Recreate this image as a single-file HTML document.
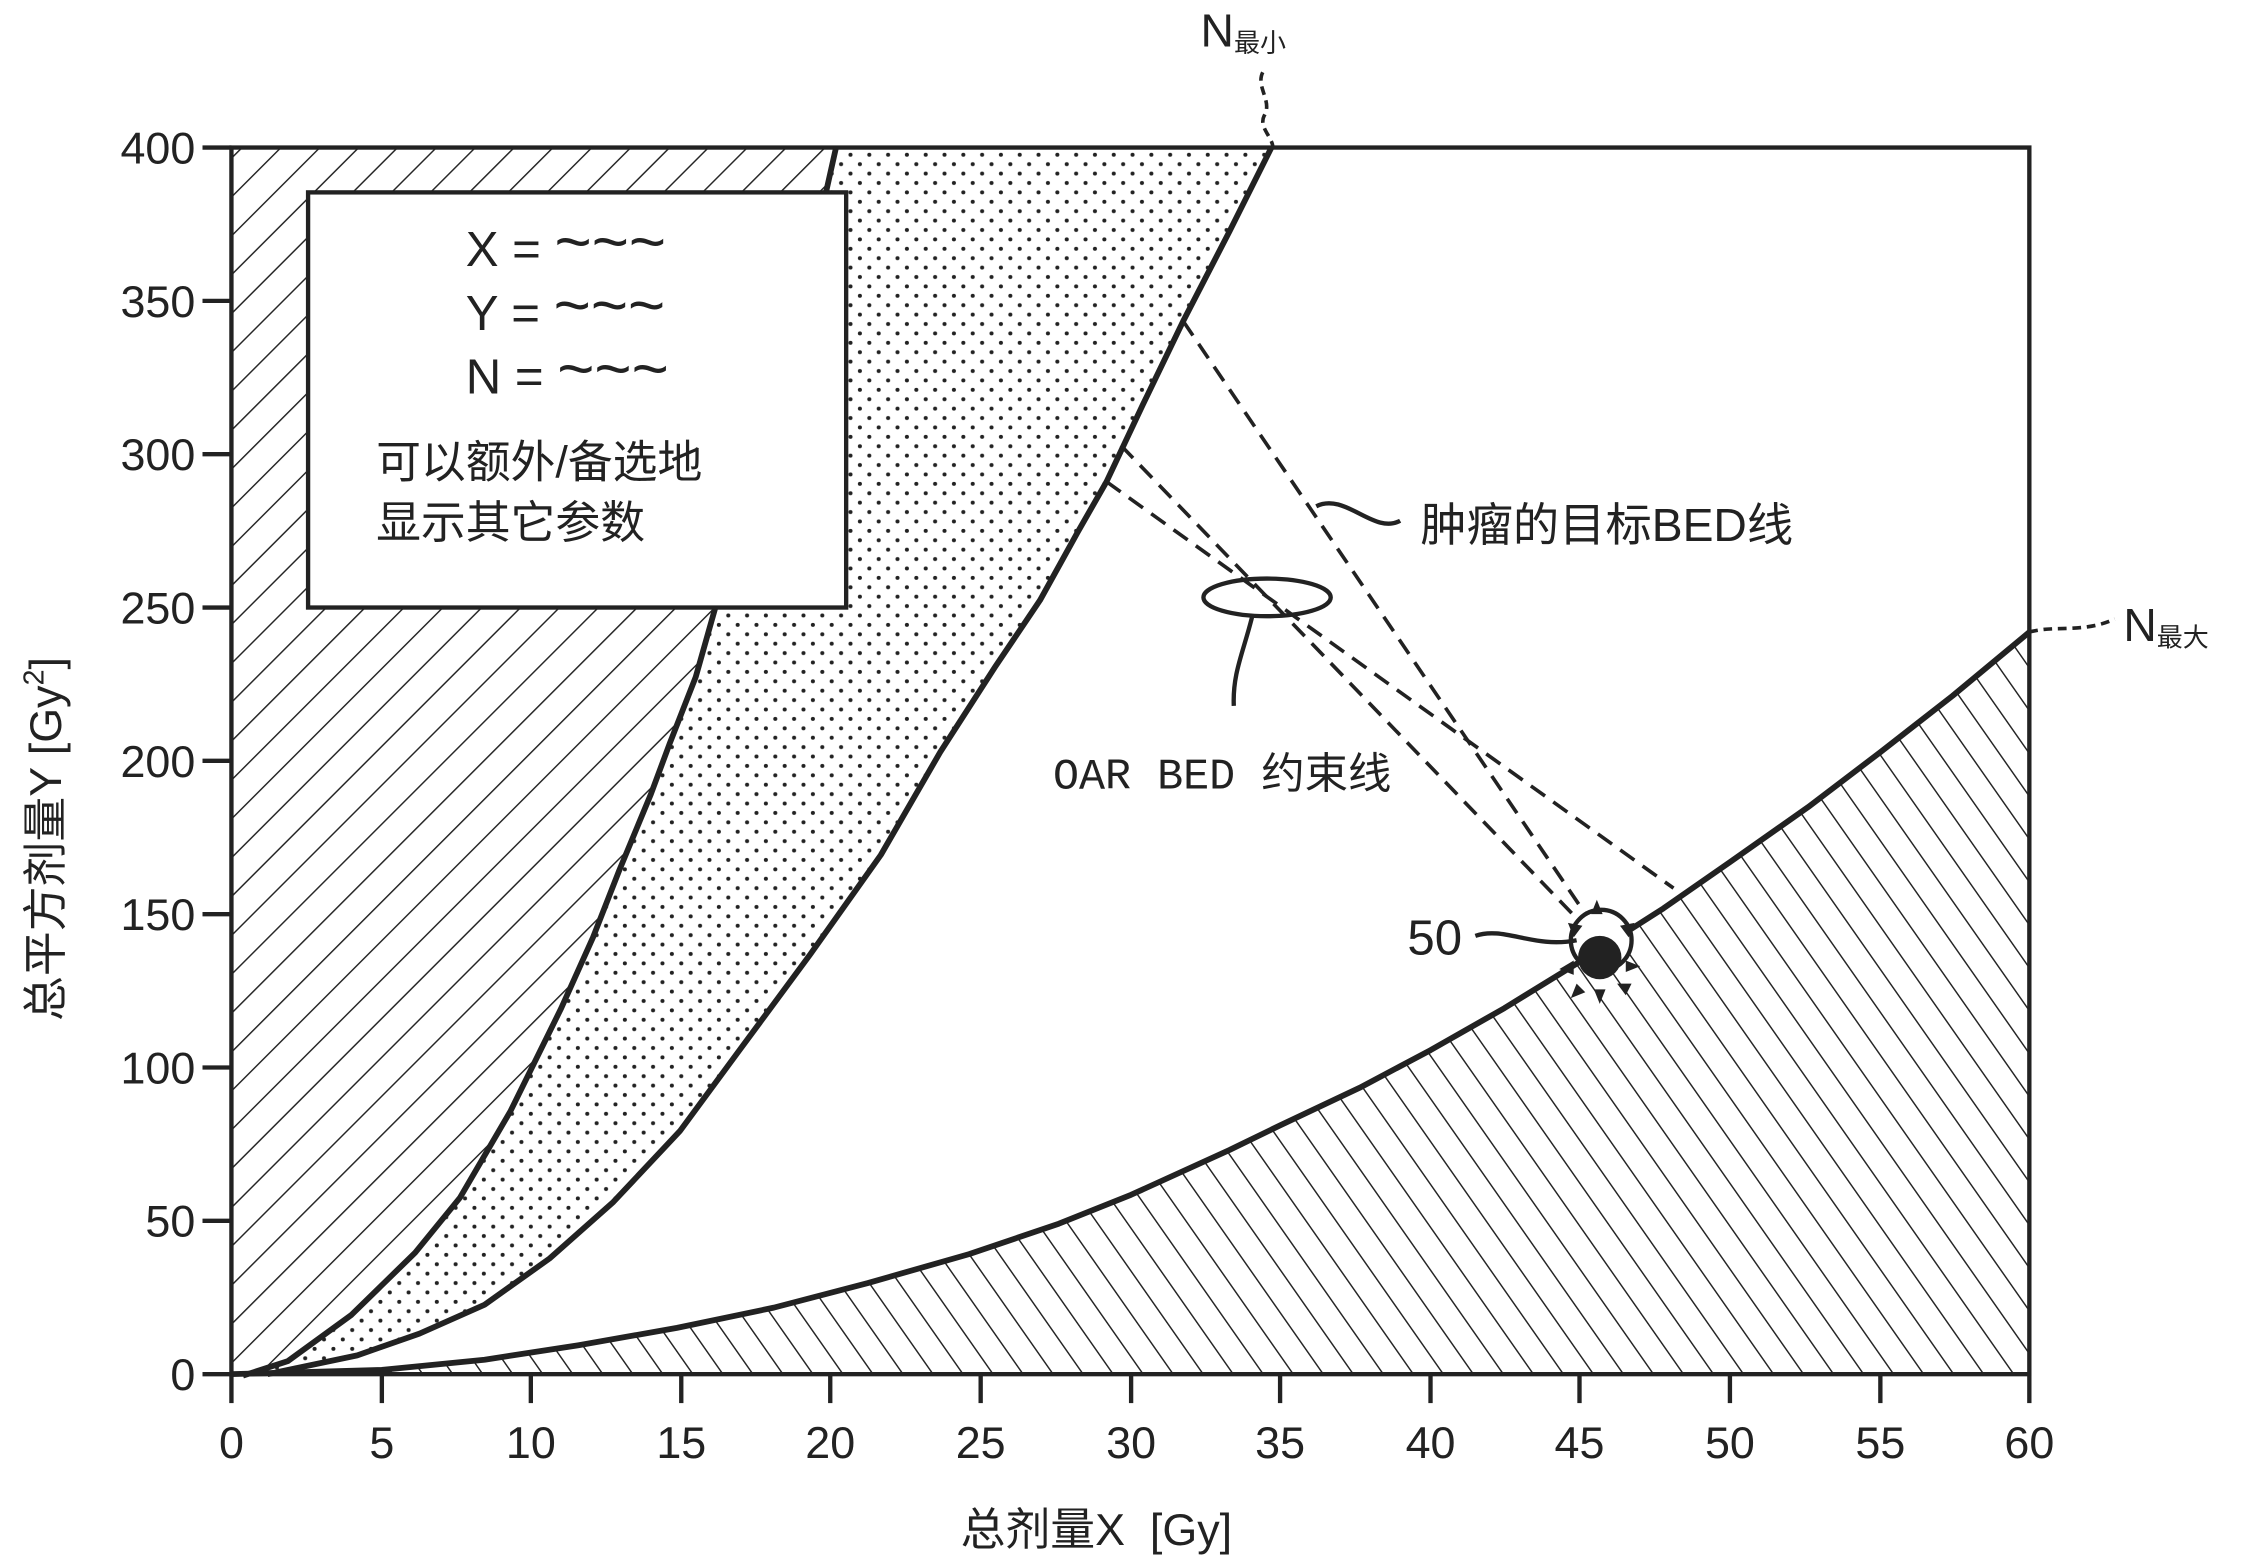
<!DOCTYPE html>
<html><head><meta charset="utf-8"><style>html,body{margin:0;padding:0;background:#fff}svg{display:block}</style></head><body>
<svg width="2268" height="1568" viewBox="0 0 1568 1084" preserveAspectRatio="none" xmlns="http://www.w3.org/2000/svg" font-family="Liberation Sans, Noto Sans CJK SC, sans-serif">
<defs>
<pattern id="h1" patternUnits="userSpaceOnUse" width="19" height="19" patternTransform="rotate(45)"><line x1="0" y1="0" x2="0" y2="19" stroke="#222" stroke-width="2"/></pattern>
<pattern id="h2" patternUnits="userSpaceOnUse" width="17" height="17" patternTransform="rotate(-35)"><line x1="0" y1="0" x2="0" y2="17" stroke="#222" stroke-width="2"/></pattern>
<pattern id="dots" patternUnits="userSpaceOnUse" width="13" height="13"><circle cx="3" cy="3" r="1.4" fill="#222"/><circle cx="9.5" cy="9.5" r="1.4" fill="#222"/></pattern>
</defs>
<path d="M160,950 L168,951 L199,941 L243,909 L287,866 L318,828 L353,768 L388,697 L410,648 L428,602 L450,549 L463,514 L481,468 L494,422 L520,330 L548,230 L565,160 L578,102 L160,102 Z" fill="url(#h1)"/>
<path d="M168,951 L199,941 L243,909 L287,866 L318,828 L353,768 L388,697 L410,648 L428,602 L450,549 L463,514 L481,468 L494,422 L520,330 L548,230 L565,160 L578,102 L879,102 L850,160 L818,222 L790,280 L765,333 L745,368 L719,415 L688,461 L650,520 L609,591 L560,660 L512,725 L470,782 L424,831 L380,870 L335,902 L290,922 L247,937 L185,950 Z" fill="url(#dots)"/>
<path d="M181,950 L264,947 L335,940 L400,930 L468,918 L535,904 L600,887 L670,867 L732,846 L782,826 L850,795 L885,778 L940,752 L989,726 L1040,697 L1092,665 L1150,628 L1196,596 L1250,558 L1300,520 L1350,481 L1403,437 L1403,950 Z" fill="url(#h2)"/>
<rect x="160" y="102" width="1243" height="848" fill="none" stroke="#222" stroke-width="3"/>
<g fill="none" stroke="#222" stroke-width="4" stroke-linejoin="round">
<polyline points="168,951 199,941 243,909 287,866 318,828 353,768 388,697 410,648 428,602 450,549 463,514 481,468 494,422 520,330 548,230 565,160 578,102"/>
<polyline points="185,950 247,937 290,922 335,902 380,870 424,831 470,782 512,725 560,660 609,591 650,520 688,461 719,415 745,368 765,333 790,280 818,222 850,160 879,102"/>
<polyline points="160,950 264,947 335,940 400,930 468,918 535,904 600,887 670,867 732,846 782,826 850,795 885,778 940,752 989,726 1040,697 1092,665 1150,628 1196,596 1250,558 1300,520 1350,481 1403,437"/>
</g>
<rect x="213" y="133" width="372" height="287" fill="#fff" stroke="#222" stroke-width="3"/>
<g font-size="34" fill="#222">
<text x="322" y="184">X = <tspan font-size="44" dy="-2">~~~</tspan></text>
<text x="322" y="228">Y = <tspan font-size="44" dy="-2">~~~</tspan></text>
<text x="322" y="272">N = <tspan font-size="44" dy="-2">~~~</tspan></text>
<text x="260" y="330" font-size="31">可以额外/备选地</text>
<text x="260" y="372" font-size="31">显示其它参数</text>
</g>
<g stroke="#222" stroke-width="2.5" stroke-dasharray="12,7" fill="none">
<line x1="818" y1="222" x2="1105" y2="645"/>
<line x1="775" y1="308" x2="1095" y2="640"/>
<line x1="765" y1="333" x2="1157" y2="614"/>
</g>
<ellipse cx="876" cy="413" rx="44" ry="13" fill="none" stroke="#222" stroke-width="3"/>
<path d="M866,425 C860,450 852,465 853,488" fill="none" stroke="#222" stroke-width="3"/>
<path d="M910,350 C930,340 950,370 968,360" fill="none" stroke="#222" stroke-width="3"/>
<text x="982" y="374" font-size="32" fill="#222">肿瘤的目标BED线</text>
<text x="728" y="545" font-size="30" fill="#222" font-family="Liberation Mono, Noto Sans CJK SC, monospace">OAR BED 约束线</text>
<circle cx="1107" cy="650" r="21" fill="#fff" stroke="#222" stroke-width="3"/>
<circle cx="1106" cy="662" r="15" fill="#222"/>
<g fill="#222">
<polygon points="1100,632 1108,632 1104,622"/>
<polygon points="1088,648 1094,640 1084,638"/>
<polygon points="1120,640 1126,648 1130,638"/>
<polygon points="1078,670 1088,664 1088,674"/>
<polygon points="1124,664 1134,668 1124,672"/>
<polygon points="1090,680 1096,686 1086,690"/>
<polygon points="1102,684 1110,684 1106,694"/>
<polygon points="1118,680 1124,688 1128,680"/>
</g>
<path d="M1020,647 C1040,640 1060,656 1090,650" fill="none" stroke="#222" stroke-width="3"/>
<text x="973" y="660" font-size="34" fill="#222">50</text>
<text x="830" y="32" font-size="32" fill="#222">N<tspan font-size="18" dy="4">最小</tspan></text>
<path d="M873,50 C868,60 880,70 874,80 C870,88 880,95 880,102" fill="none" stroke="#222" stroke-width="2.5" stroke-dasharray="6,4"/>
<text x="1468" y="443" font-size="32" fill="#222">N<tspan font-size="18" dy="4">最大</tspan></text>
<path d="M1403,437 C1420,432 1440,438 1462,428" fill="none" stroke="#222" stroke-width="2.5" stroke-dasharray="6,4"/>
<g stroke="#222" stroke-width="3">
<line x1="140" y1="950" x2="160" y2="950"/><line x1="140" y1="844" x2="160" y2="844"/><line x1="140" y1="738" x2="160" y2="738"/><line x1="140" y1="632" x2="160" y2="632"/><line x1="140" y1="526" x2="160" y2="526"/><line x1="140" y1="420" x2="160" y2="420"/><line x1="140" y1="314" x2="160" y2="314"/><line x1="140" y1="208" x2="160" y2="208"/><line x1="140" y1="102" x2="160" y2="102"/>
<line x1="160" y1="950" x2="160" y2="970"/><line x1="264" y1="950" x2="264" y2="970"/><line x1="367" y1="950" x2="367" y2="970"/><line x1="471" y1="950" x2="471" y2="970"/><line x1="574" y1="950" x2="574" y2="970"/><line x1="678" y1="950" x2="678" y2="970"/><line x1="782" y1="950" x2="782" y2="970"/><line x1="885" y1="950" x2="885" y2="970"/><line x1="989" y1="950" x2="989" y2="970"/><line x1="1092" y1="950" x2="1092" y2="970"/><line x1="1196" y1="950" x2="1196" y2="970"/><line x1="1300" y1="950" x2="1300" y2="970"/><line x1="1403" y1="950" x2="1403" y2="970"/>
</g>
<g font-size="31" fill="#222" text-anchor="end">
<text x="135" y="961">0</text><text x="135" y="855">50</text><text x="135" y="749">100</text><text x="135" y="643">150</text><text x="135" y="537">200</text><text x="135" y="431">250</text><text x="135" y="325">300</text><text x="135" y="219">350</text><text x="135" y="113">400</text>
</g>
<g font-size="31" fill="#222" text-anchor="middle">
<text x="160" y="1008">0</text><text x="264" y="1008">5</text><text x="367" y="1008">10</text><text x="471" y="1008">15</text><text x="574" y="1008">20</text><text x="678" y="1008">25</text><text x="782" y="1008">30</text><text x="885" y="1008">35</text><text x="989" y="1008">40</text><text x="1092" y="1008">45</text><text x="1196" y="1008">50</text><text x="1300" y="1008">55</text><text x="1403" y="1008">60</text>
<text x="758" y="1068" xml:space="preserve">总剂量X  [Gy]</text>
</g>
<text transform="translate(42,580) rotate(-90)" font-size="31" fill="#222" text-anchor="middle">总平方剂量Y [Gy<tspan font-size="20" dy="-12">2</tspan><tspan dy="12">]</tspan></text>
</svg>
</body></html>
